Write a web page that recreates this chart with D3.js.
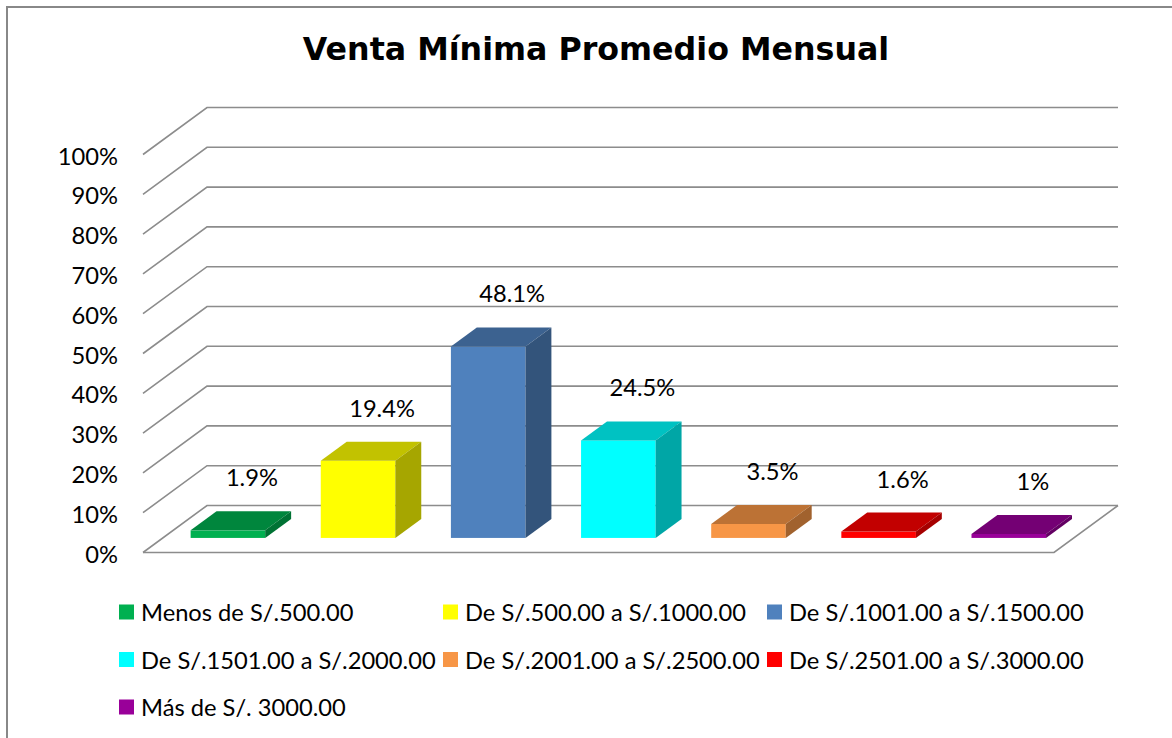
<!DOCTYPE html>
<html>
<head>
<meta charset="utf-8">
<script src="https://cdn.jsdelivr.net/npm/d3@7"></script>
<style>
  body { margin: 0; background: #fff; }
</style>
</head>
<body>
<div id="chart"></div>
<script>
const categories = [
    "Menos de S/.500.00",
    "De S/.500.00 a S/.1000.00",
    "De S/.1001.00 a S/.1500.00",
    "De S/.1501.00 a S/.2000.00",
    "De S/.2001.00 a S/.2500.00",
    "De S/.2501.00 a S/.3000.00",
    "Más de S/. 3000.00"
];
const values = [1.9, 19.4, 48.1, 24.5, 3.5, 1.6, 1];
const colors = ["#00B050", "#FFFF00", "#4F81BD", "#00FFFF", "#F79646", "#FF0000", "#990099"];
const yTicks = [0, 10, 20, 30, 40, 50, 60, 70, 80, 90, 100];
const title = "Venta Mínima Promedio Mensual";

const width = 1172;
const height = 738;
const textFont = "Lato, sans-serif";
const textSize = "23.7px";

// floor / wall geometry (oblique projection)
const front = { left: 143, right: 1054, bottom: 552.5, top: 154.5 };
const depth = { dx: 64, dy: -47 };
const barDepth = { from: 0.31, to: 0.715 };

const svg = d3.select("#chart").append("svg")
    .attr("width", width)
    .attr("height", height);

svg.append("rect")
    .attr("x", 7).attr("y", 7)
    .attr("width", width + 10).attr("height", height + 10)
    .attr("fill", "#fff")
    .attr("stroke", "#888")
    .attr("stroke-width", 2);

const x = d3.scaleBand()
    .domain(categories)
    .range([front.left, front.right])
    .paddingInner(0.427)
    .paddingOuter(0.2135);

const y = d3.scaleLinear()
    .domain([0, 100])
    .range([front.bottom, front.top]);

const off = t => [depth.dx * t, depth.dy * t];

function shade(c, k) {
    const r = d3.rgb(c);
    return d3.rgb(r.r * k, r.g * k, r.b * k).formatHex();
}

// gridlines on the back wall + left side wall
const grid = svg.append("g")
    .attr("fill", "none")
    .attr("stroke", "#8c8c8c")
    .attr("stroke-width", 1.6);

grid.selectAll("path.grid")
    .data(yTicks)
    .enter().append("path")
    .attr("class", "grid")
    .attr("d", d => {
        const p = d3.path();
        p.moveTo(front.left, y(d));
        p.lineTo(front.left + depth.dx, y(d) + depth.dy);
        p.lineTo(front.right + depth.dx, y(d) + depth.dy);
        return p.toString();
    });

// floor front and right edge
grid.append("path")
    .attr("d", () => {
        const p = d3.path();
        p.moveTo(front.left, y(0));
        p.lineTo(front.right, y(0));
        p.lineTo(front.right + depth.dx, y(0) + depth.dy);
        return p.toString();
    });

// axis labels
const axis = svg.append("g")
    .attr("transform", "translate(118,2)")
    .call(d3.axisLeft(y).tickValues(yTicks).tickSize(0).tickPadding(0).tickFormat(d => d + "%"));
axis.select(".domain").remove();
axis.selectAll("text")
    .style("font-family", textFont)
    .style("font-size", textSize)
    .style("fill", "#000");

// 3D bars
const [fx, fy] = off(barDepth.from);
const [bx, by] = off(barDepth.to);
const ddx = bx - fx, ddy = by - fy;

const bars = svg.selectAll("g.bar")
    .data(values)
    .enter().append("g")
    .attr("class", "bar");

bars.append("rect")
    .attr("x", (d, i) => x(categories[i]) + fx)
    .attr("y", d => y(d) + fy)
    .attr("width", x.bandwidth())
    .attr("height", d => y(0) - y(d))
    .attr("fill", (d, i) => colors[i]);

bars.append("path")
    .attr("fill", (d, i) => shade(colors[i], 0.76))
    .attr("d", (d, i) => {
        const x0 = x(categories[i]) + fx, y0 = y(d) + fy, w = x.bandwidth();
        return `M${x0},${y0}L${x0 + ddx},${y0 + ddy}L${x0 + w + ddx},${y0 + ddy}L${x0 + w},${y0}Z`;
    });

bars.append("path")
    .attr("fill", (d, i) => shade(colors[i], 0.65))
    .attr("d", (d, i) => {
        const x1 = x(categories[i]) + fx + x.bandwidth(), yt = y(d) + fy, yb = y(0) + fy;
        return `M${x1},${yt}L${x1 + ddx},${yt + ddy}L${x1 + ddx},${yb + ddy}L${x1},${yb}Z`;
    });

// value labels
svg.selectAll("text.value")
    .data(values)
    .enter().append("text")
    .attr("class", "value")
    .attr("x", (d, i) => x(categories[i]) + fx + x.bandwidth() / 2 + 24)
    .attr("y", d => y(d) + fy - 53)
    .attr("text-anchor", "middle")
    .attr("dominant-baseline", "central")
    .style("font-family", textFont)
    .style("font-size", textSize)
    .text(d => d + "%");

// title
svg.append("text")
    .attr("x", 596)
    .attr("y", 60)
    .attr("text-anchor", "middle")
    .style("font-family", "'DejaVu Sans', sans-serif")
    .style("font-weight", "bold")
    .style("font-size", "31.7px")
    .text(title);

// legend
const legend = svg.append("g")
    .selectAll("g")
    .data(categories)
    .enter().append("g")
    .attr("transform", (d, i) => `translate(${119 + (i % 3) * 324},${612 + Math.floor(i / 3) * 47.5})`);

legend.append("rect")
    .attr("x", 0).attr("y", -7.5)
    .attr("width", 15).attr("height", 15)
    .attr("fill", (d, i) => colors[i]);

legend.append("text")
    .attr("x", 22)
    .attr("dominant-baseline", "central")
    .style("font-family", textFont)
    .style("font-size", textSize)
    .text(d => d);
</script>
</body>
</html>
